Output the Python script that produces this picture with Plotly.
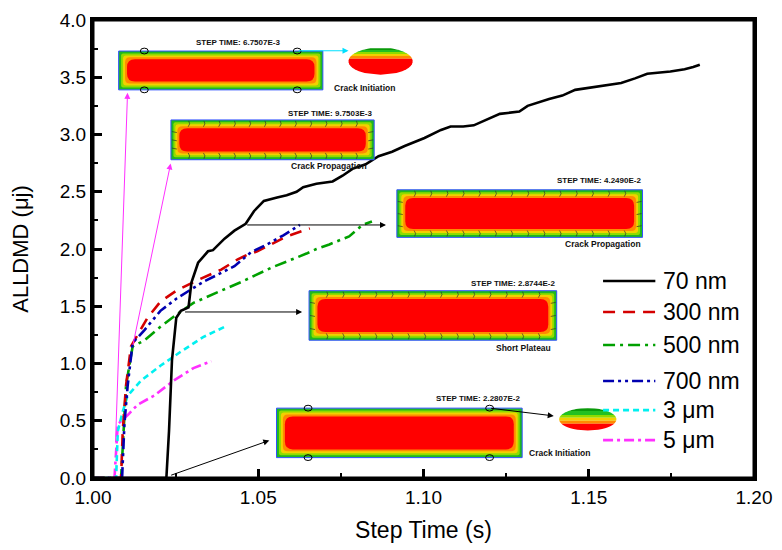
import numpy as np
import plotly.graph_objects as go

# ---------------- data ----------------
x_70nm = [1.000, 1.0222, 1.0230, 1.0239, 1.0252, 1.0266, 1.0289, 1.0298, 1.0318, 1.0348, 1.0363,
          1.0398, 1.0428, 1.0462, 1.0487, 1.0517, 1.0557, 1.0586, 1.0616, 1.0636, 1.0676, 1.0725,
          1.0755, 1.0785, 1.0825, 1.0864, 1.0905, 1.0943, 1.1003, 1.1053, 1.1082, 1.1120, 1.1152,
          1.1190, 1.1231, 1.1290, 1.1315, 1.1380, 1.1420, 1.1459, 1.1548, 1.1598, 1.1640, 1.1677,
          1.1747, 1.1790, 1.1816, 1.1836]
y_70nm = [0.00, 0.00, 0.41, 1.03, 1.40, 1.46, 1.49, 1.71, 1.88, 1.98, 1.99,
          2.09, 2.16, 2.22, 2.33, 2.42, 2.45, 2.47, 2.50, 2.54, 2.57, 2.59,
          2.64, 2.70, 2.74, 2.81, 2.85, 2.90, 2.97, 3.04, 3.07, 3.07, 3.08,
          3.13, 3.18, 3.20, 3.25, 3.31, 3.34, 3.39, 3.43, 3.45, 3.49, 3.53,
          3.55, 3.57, 3.59, 3.61]

x_300nm = [1.000, 1.0085, 1.0090, 1.0100, 1.0115, 1.0145, 1.0165, 1.0204, 1.0254, 1.0318,
           1.0388, 1.0438, 1.0467, 1.0497, 1.0547, 1.0586, 1.0656]
y_300nm = [0.00, 0.00, 0.41, 0.81, 1.15, 1.30, 1.40, 1.54, 1.64, 1.73,
           1.82, 1.91, 1.95, 1.98, 2.05, 2.11, 2.18]

x_500nm = [1.000, 1.0085, 1.0100, 1.0120, 1.0155, 1.0204, 1.0254, 1.0304, 1.0383, 1.0447,
           1.0542, 1.0596, 1.0646, 1.0676, 1.0715, 1.0775, 1.0815, 1.0844]
y_500nm = [0.00, 0.00, 0.81, 1.15, 1.20, 1.32, 1.43, 1.53, 1.63, 1.71,
           1.84, 1.90, 1.96, 2.00, 2.04, 2.11, 2.21, 2.24]

x_700nm = [1.000, 1.0088, 1.0095, 1.0105, 1.0120, 1.0155, 1.0204, 1.0254, 1.0304, 1.0338,
           1.0380, 1.0428, 1.0477, 1.0527, 1.0576, 1.0626]
y_700nm = [0.00, 0.00, 0.47, 0.81, 1.18, 1.29, 1.46, 1.57, 1.66, 1.72,
           1.78, 1.85, 1.97, 2.04, 2.12, 2.21]

x_3um = [1.000, 1.0070, 1.0075, 1.0090, 1.0105, 1.0145, 1.0204, 1.0264, 1.0333, 1.0398]
y_3um = [0.00, 0.00, 0.41, 0.58, 0.72, 0.85, 0.98, 1.10, 1.23, 1.32]

x_5um = [1.000, 1.0065, 1.0075, 1.0105, 1.0135, 1.0185, 1.0244, 1.0304, 1.0358]
y_5um = [0.00, 0.00, 0.47, 0.55, 0.64, 0.72, 0.85, 0.96, 1.02]

series_names = ["70 nm", "300 nm", "500 nm", "700 nm", "3 μm", "5 μm"]
x_ticks = [1.00, 1.05, 1.10, 1.15, 1.20]
y_ticks = [0.0, 0.5, 1.0, 1.5, 2.0, 2.5, 3.0, 3.5, 4.0]

# ---------------- figure geometry ----------------
W, H = 782, 550
ML, MT = 93, 10
PW, PH = 670, 472
MR = W - ML - PW
MB = H - MT - PH
XR = [1.0, 1.2]
YR = [0.0, 4.0]
SX = PW / (XR[1] - XR[0])
SY = PH / (YR[1] - YR[0])


def px2x(px):   # page pixel -> data x
    return XR[0] + (px - ML) / SX


def py2y(py):   # page pixel -> data y
    return YR[0] + (MT + PH - py) / SY


def px2p(px):   # page pixel -> paper x
    return (px - ML) / PW


def py2p(py):   # page pixel -> paper y
    return (MT + PH - py) / PH


FONT = "Liberation Sans, Arial, sans-serif"
fig = go.Figure()

styles = [
    dict(color="black", width=2.6, dash="solid"),
    dict(color="#d40000", width=2.6, dash="12px,8px"),
    dict(color="#00a000", width=2.6, dash="12px,5px,3px,5px"),
    dict(color="#0000b0", width=2.6, dash="11px,4px,3px,4px,3px,4px"),
    dict(color="#00f0f0", width=2.6, dash="6px,4px"),
    dict(color="#ff30ff", width=2.6, dash="10px,4px,3px,4px"),
]
xs = [x_70nm, x_300nm, x_500nm, x_700nm, x_3um, x_5um]
ys = [y_70nm, y_300nm, y_500nm, y_700nm, y_3um, y_5um]
order = [5, 4, 2, 1, 3, 0]
for i in order:
    fig.add_trace(go.Scatter(x=xs[i], y=ys[i], mode="lines", name=series_names[i],
                             line=styles[i], showlegend=False))

shapes = []
annotations = []


def rrect_path(x0p, x1p, y0p, y1p, r):
    x0, x1 = px2x(x0p), px2x(x1p)
    yt, yb = py2y(y0p), py2y(y1p)
    rx, ry = r / SX, r / SY
    if r <= 0:
        return f"M{x0},{yb} L{x1},{yb} L{x1},{yt} L{x0},{yt} Z"
    return (f"M{x0+rx},{yb} L{x1-rx},{yb} Q{x1},{yb} {x1},{yb+ry} "
            f"L{x1},{yt-ry} Q{x1},{yt} {x1-rx},{yt} L{x0+rx},{yt} Q{x0},{yt} {x0},{yt-ry} "
            f"L{x0},{yb+ry} Q{x0},{yb} {x0+rx},{yb} Z")


BANDS = [("#1fb81f", 0, 0), ("#8fdc00", 2.5, 2), ("#f2d000", 4.5, 3), ("#ff8a00", 6.5, 5), ("#ff0000", 8.5, 8)]


def inset(x0p, x1p, y0p, y1p, cracks=False, nm=14):
    for k, (col, d, r) in enumerate(BANDS):
        shapes.append(dict(type="path", path=rrect_path(x0p + d, x1p - d, y0p + d, y1p - d, r),
                           xref="x", yref="y", fillcolor=col,
                           line=dict(color="#3050ff" if k == 0 else col, width=1 if k == 0 else 0),
                           layer="above"))
    if cracks:
        segs = []
        for xp in np.linspace(x0p + 18, x1p - 18, nm):
            segs.append(f"M{px2x(xp)},{py2y(y0p + 1)} L{px2x(xp + 1)},{py2y(y0p + 4)} L{px2x(xp - 0.5)},{py2y(y0p + 7)}")
            segs.append(f"M{px2x(xp)},{py2y(y1p - 1)} L{px2x(xp + 1)},{py2y(y1p - 4)} L{px2x(xp - 0.5)},{py2y(y1p - 7)}")
        for yp in np.linspace(y0p + 12, y1p - 12, 3):
            segs.append(f"M{px2x(x0p + 1)},{py2y(yp)} L{px2x(x0p + 6)},{py2y(yp + 1)}")
            segs.append(f"M{px2x(x1p - 1)},{py2y(yp)} L{px2x(x1p - 6)},{py2y(yp + 1)}")
        shapes.append(dict(type="path", path=" ".join(segs), xref="x", yref="y",
                           line=dict(color="#303030", width=0.7), layer="above"))


def ring(cxp, cyp, w=8, h=6):
    shapes.append(dict(type="circle", xref="x", yref="y",
                       x0=px2x(cxp - w / 2), x1=px2x(cxp + w / 2),
                       y0=py2y(cyp + h / 2), y1=py2y(cyp - h / 2),
                       line=dict(color="black", width=1), layer="above"))


def banded_ellipse(cxp, cyp, a, b, cuts, cols):
    for (t, bt), col in zip(zip(cuts[:-1], cuts[1:]), cols):
        ysamp = np.linspace(t, bt, 10)
        right = [(cxp + a * np.sqrt(max(0.0, 1 - ((yy - cyp) / b) ** 2)), yy) for yy in ysamp]
        left = [(cxp - a * np.sqrt(max(0.0, 1 - ((yy - cyp) / b) ** 2)), yy) for yy in ysamp[::-1]]
        pts = right + left
        p = "M" + " L".join(f"{px2x(u)},{py2y(v)}" for u, v in pts) + " Z"
        shapes.append(dict(type="path", path=p, xref="x", yref="y", fillcolor=col,
                           line=dict(width=0), layer="above"))


def label(text, xp, yp, anchor="center", size=8.5):
    annotations.append(dict(text=f"<b>{text}</b>", x=px2x(xp), y=py2y(yp), xref="x", yref="y",
                            showarrow=False, xanchor=anchor, yanchor="middle",
                            font=dict(family=FONT, size=size, color="#111")))


def arrow(x_from, y_from, x_to, y_to, color="black", width=1):
    annotations.append(dict(x=x_to, y=y_to, ax=x_from, ay=y_from, xref="x", yref="y",
                            axref="x", ayref="y", text="", showarrow=True, arrowhead=2,
                            arrowsize=1.2, arrowwidth=width, arrowcolor=color, standoff=0))


ELL_COLS = ["#0a9a0a", "#22c022", "#8fdc00", "#f2d000", "#ff8a00", "#ff0000"]

# Inset A (top)
inset(119, 326, 42, 82)
ring(145, 42); ring(300, 42); ring(145, 82); ring(300, 82)
label("STEP TIME: 6.7507E-3", 285, 33.5, "right", 8)
banded_ellipse(384.5, 52.5, 32.5, 14, [39, 41, 43, 45, 47, 50, 66.5], ELL_COLS)
label("Crack Initiation", 368, 80)
arrow(px2x(300), py2y(41.7), px2x(352), py2y(41.7), color="#00e0ff")

# Inset B
inset(172, 378, 113, 154, cracks=True, nm=12)
label("STEP TIME: 9.7503E-3", 378, 106, "right", 8)
label("Crack Propagation", 332.5, 160)

# Inset C
inset(401, 650, 185, 234, cracks=True, nm=14)
label("STEP TIME: 4.2490E-2", 650, 175.5, "right", 8)
label("Crack Propagation", 650, 241, "right")

# Inset D
inset(312, 563, 289, 340, cracks=True, nm=14)
label("STEP TIME: 2.8744E-2", 563, 282, "right", 8)
label("Short Plateau", 559, 348, "right")

# Inset E
inset(279, 528, 410, 461)
ring(311, 410); ring(495, 410); ring(311, 461); ring(495, 461)
label("STEP TIME: 2.2807E-2", 528, 400.5, "right", 8)
banded_ellipse(594.5, 421.5, 29, 11.5, [410, 413, 417, 420, 423, 426, 433], ELL_COLS)
label("Crack Initiation", 566, 456)
arrow(px2x(495), py2y(410), px2x(560), py2y(418))

# pointer arrows from curves to insets
arrow(1.0068, 0.30, px2x(128), py2y(85), color="#ff30ff")
arrow(1.0120, 1.15, px2x(171.7), py2y(158), color="#ff30ff")
arrow(1.0232, 0.02, px2x(271.7), py2y(443.3))
arrow(1.0274, 1.45, px2x(305), 1.45)
arrow(1.0462, 2.21, px2x(390), 2.21)

# ---------------- legend (drawn in paper space) ----------------
legend_rows = [279, 311, 345, 382, 412, 443]
for i, ry in enumerate(legend_rows):
    st = styles[i]
    shapes.append(dict(type="line", xref="paper", yref="paper",
                       x0=px2p(610), x1=px2p(663), y0=py2p(ry), y1=py2p(ry),
                       line=dict(color=st["color"], width=2.6, dash=st["dash"]), layer="above"))
    annotations.append(dict(text=series_names[i], xref="paper", yref="paper",
                            x=px2p(669), y=py2p(ry), xanchor="left", yanchor="middle",
                            showarrow=False, font=dict(family=FONT, size=23, color="black")))

# frame box
shapes.append(dict(type="rect", xref="paper", yref="paper", x0=0, x1=1, y0=0, y1=1,
                   line=dict(color="black", width=3), fillcolor="rgba(0,0,0,0)", layer="above"))

fig.update_layout(
    width=W, height=H,
    margin=dict(l=ML, r=MR, t=MT, b=MB),
    paper_bgcolor="white", plot_bgcolor="white",
    font=dict(family=FONT, color="black"),
    shapes=shapes, annotations=annotations,
    showlegend=False,
)
fig.update_xaxes(range=XR, tickvals=x_ticks, ticktext=[f"{v:.2f}" for v in x_ticks],
                 showgrid=False, zeroline=False, showline=True, linewidth=3, linecolor="black",
                 mirror=True, ticks="inside", ticklen=9, tickwidth=3, tickcolor="black",
                 tickfont=dict(size=19), ticklabeloverflow="allow",
                 minor=dict(ticks="inside", ticklen=5, tickwidth=2, dtick=0.025, tick0=1.0,
                            showgrid=False),
                 title=dict(text="Step Time (s)", font=dict(size=23), standoff=16))
fig.update_yaxes(range=YR, tickvals=y_ticks, ticktext=[f"{v:.1f}" for v in y_ticks],
                 showgrid=False, zeroline=False, showline=True, linewidth=3, linecolor="black",
                 mirror=True, ticks="inside", ticklen=9, tickwidth=3, tickcolor="black",
                 tickfont=dict(size=19), ticklabeloverflow="allow",
                 minor=dict(ticks="inside", ticklen=5, tickwidth=2, dtick=0.25, tick0=0.0,
                            showgrid=False),
                 title=dict(text="ALLDMD (μj)", font=dict(size=22), standoff=26))

fig.write_html("out.html",
               config={"displayModeBar": False},
               post_script="document.body.style.margin='0';"
                           "document.documentElement.style.overflow='hidden';")
